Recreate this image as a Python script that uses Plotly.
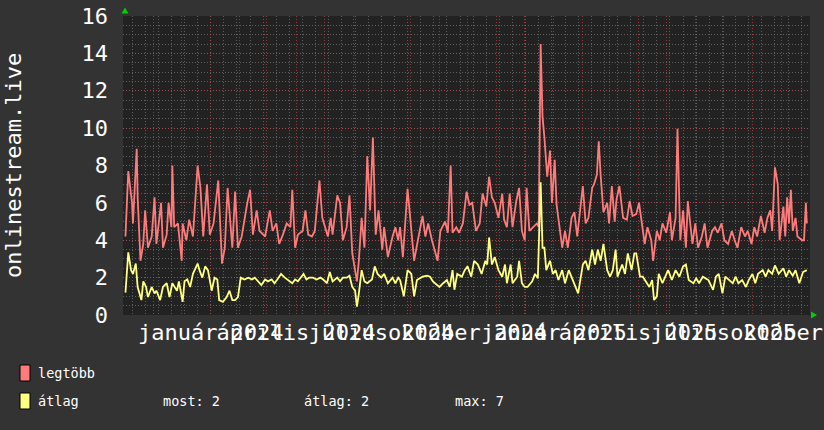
import pandas as pd
import plotly.graph_objects as go

# ---------------- data (days counted from 2024-01-01) ----------------
days_max_a = [-91, -88, -84, -83, -79, -78, -75, -72, -70, -67, -63, -60, -58, -53, -51, -47, -45, -42, -41, -39,
              -35, -31, -30, -26, -23, -19, -14, -11, -8, -4, -1, 3, 8, 12, 15, 18, 23, 26, 29, 33,
              39, 42, 45, 49, 52, 58, 63, 66, 70, 73, 77, 81, 85, 87, 90, 93, 98, 101, 104, 108,
              111, 116, 119, 122, 125, 128, 130, 135, 138, 141, 145, 148, 150, 151, 156, 158, 161, 164, 167, 170,
              173, 176, 179, 183, 185, 189, 194, 197, 200]
legtobb_a = [4.2, 7.7, 6.0, 4.9, 8.9, 6.3, 2.9, 3.8, 5.6, 3.6, 4.2, 6.3, 3.8, 6.0, 3.6, 4.3, 6.0, 4.7, 8.0, 4.7,
             4.9, 2.9, 4.9, 4.0, 5.1, 4.2, 8.0, 6.8, 4.2, 7.0, 4.3, 4.9, 7.2, 2.75, 3.6, 6.8, 3.6, 6.6, 3.6, 4.2,
             6.0, 6.7, 4.3, 5.6, 4.5, 4.2, 5.6, 4.5, 4.9, 3.8, 4.3, 4.9, 4.7, 6.7, 3.6, 4.3, 4.5, 5.6, 4.3, 4.2,
             4.5, 7.2, 5.2, 4.7, 4.2, 5.2, 4.3, 6.4, 6.0, 4.0, 4.7, 6.4, 3.8, 3.3, 1.8, 2.9, 5.2, 3.6, 8.5, 5.6,
             9.5, 4.3, 5.6, 3.5, 4.7, 3.1, 4.2, 4.7, 4.0]
days_max_b = [202, 205, 210, 213, 217, 221, 226, 229, 232, 236, 239, 242, 245, 250, 253, 256, 258, 262, 265, 269,
              273, 276, 279, 283, 287, 290, 294, 297, 300, 303, 307, 311, 313, 316, 319, 322, 326, 329, 332, 335,
              337, 340, 344, 348, 350, 352, 354, 356, 359, 362, 364, 367, 369, 372, 375, 378, 381, 385, 388, 391,
              397, 400, 403, 407, 409, 412, 414, 416, 419, 423, 425, 428, 431, 433, 436, 440, 444, 447, 450, 454,
              457, 460, 463, 466, 470, 472, 476, 479, 482, 486, 490, 492, 496, 498, 501, 504, 507, 509, 514, 517,
              520, 524, 527, 530, 535, 538, 541, 545, 548, 552, 556, 559, 562, 566, 570, 573, 577, 580, 583, 587,
              591, 594, 597, 599, 602, 605, 607, 611, 613, 615, 617, 619, 621, 624, 626, 631, 633, 635, 636]
legtobb_b = [4.7, 3.1, 6.75, 5.1, 2.9, 4.0, 5.3, 4.2, 4.9, 4.0, 3.5, 2.9, 4.5, 5.0, 4.4, 8.0, 4.4, 4.7, 4.4, 4.9,
             6.6, 5.9, 6.0, 4.5, 4.9, 6.5, 5.8, 7.4, 6.3, 6.0, 5.2, 6.5, 5.1, 4.7, 6.5, 4.7, 6.1, 6.8, 4.5, 4.0,
             6.8, 4.5, 4.7, 4.9, 4.7, 14.5, 10.6, 9.5, 7.4, 8.8, 6.0, 8.3, 5.9, 4.7, 3.6, 4.5, 3.6, 5.2, 5.5, 4.2,
             6.9, 4.9, 5.2, 6.8, 7.0, 7.5, 9.3, 7.5, 5.5, 6.0, 4.9, 6.9, 5.0, 6.2, 6.9, 5.2, 5.1, 6.1, 5.3, 5.4,
             6.0, 4.9, 3.8, 4.7, 4.0, 2.9, 4.5, 4.0, 4.9, 4.4, 5.5, 4.0, 5.2, 9.96, 4.0, 5.6, 3.6, 6.1, 3.8, 4.9,
             3.6, 4.2, 4.9, 3.6, 4.5, 4.7, 4.4, 4.9, 4.0, 3.8, 4.5, 4.0, 3.6, 4.7, 4.2, 4.5, 3.8, 4.7, 4.2, 5.3,
             4.4, 5.2, 5.6, 4.5, 7.9, 7.0, 4.0, 5.8, 4.2, 6.3, 4.9, 6.7, 4.5, 5.2, 4.2, 4.0, 4.0, 6.0, 4.9]

days_avg_a = [-91, -88, -85, -83, -80, -78, -74, -72, -69, -67, -63, -60, -58, -54, -51, -47, -44, -41, -36, -34,
              -30, -28, -25, -22, -19, -14, -12, -9, -6, -3, 1, 4, 7, 9, 13, 17, 20, 23, 26, 29,
              32, 36, 40, 44, 47, 50, 54, 58, 61, 65, 68, 71, 75, 79, 82, 87, 90, 93, 99, 102,
              105, 109, 113, 117, 120, 124, 127, 130, 135, 138, 141, 145, 148, 151, 154, 156, 158, 161, 164, 167,
              172, 175, 178, 182, 185, 189, 194, 197, 200]
atlag_a = [1.2, 3.35, 2.4, 2.2, 2.75, 1.5, 0.8, 1.8, 1.5, 0.96, 1.5, 1.15, 1.3, 0.8, 1.5, 1.7, 0.96, 1.7, 1.3, 1.8,
           0.7, 1.8, 1.9, 1.5, 2.2, 2.75, 2.4, 2.0, 2.6, 2.4, 1.3, 2.0, 1.9, 0.8, 0.7, 0.96, 1.3, 0.8, 0.8, 0.96,
           2.0, 1.9, 2.0, 1.9, 2.0, 1.8, 1.6, 1.9, 1.8, 1.9, 1.7, 1.9, 2.2, 2.0, 1.9, 1.7, 1.9, 1.8, 2.2, 1.9,
           2.0, 2.0, 1.9, 2.0, 1.9, 1.7, 2.3, 1.8, 2.0, 1.8, 2.0, 2.0, 2.1, 1.5, 1.3, 0.45, 1.15, 2.4, 1.8, 1.7,
           1.9, 2.6, 2.2, 2.0, 2.2, 1.7, 2.0, 1.7, 2.0]
days_avg_b = [202, 206, 210, 214, 217, 220, 223, 226, 231, 234, 237, 241, 244, 248, 252, 255, 258, 260, 263, 268,
              271, 274, 278, 281, 285, 289, 293, 295, 297, 300, 303, 307, 311, 314, 316, 320, 322, 327, 329, 332,
              335, 338, 343, 346, 349, 352, 354, 356, 358, 362, 365, 368, 371, 375, 378, 382, 386, 389, 392, 397,
              400, 403, 407, 410, 413, 416, 419, 423, 426, 429, 432, 434, 439, 442, 445, 449, 452, 454, 458, 461,
              465, 468, 471, 473, 476, 478, 482, 485, 488, 492, 496, 500, 504, 507, 510, 515, 518, 521, 525, 528,
              531, 536, 539, 542, 546, 549, 553, 557, 560, 563, 567, 571, 574, 578, 581, 584, 589, 592, 595, 599,
              602, 606, 611, 614, 617, 621, 624, 628, 632, 635, 636]
atlag_b = [1.87, 1.0, 2.4, 2.2, 1.0, 1.87, 1.96, 2.05, 2.1, 2.05, 1.8, 1.6, 1.5, 1.7, 1.87, 1.5, 2.4, 1.35, 2.2, 2.05,
           2.4, 2.6, 2.05, 2.9, 2.7, 2.2, 2.9, 2.7, 4.15, 2.7, 3.1, 2.4, 2.05, 2.7, 1.7, 2.7, 1.7, 2.05, 2.9, 1.7,
           1.5, 1.5, 1.8, 2.2, 1.96, 7.1, 3.6, 3.6, 2.4, 2.9, 2.2, 2.4, 1.87, 2.4, 1.7, 2.4, 1.87, 1.5, 1.16, 2.7,
           2.9, 2.4, 3.5, 2.7, 3.5, 2.9, 3.8, 2.4, 2.05, 2.4, 3.5, 2.05, 2.7, 2.2, 3.3, 2.4, 3.3, 3.3, 2.05, 2.05,
           1.7, 1.5, 1.87, 0.8, 1.0, 2.2, 1.7, 2.05, 2.4, 1.87, 2.4, 2.05, 2.6, 2.7, 1.87, 1.7, 1.96, 1.7, 2.05, 1.96,
           1.87, 1.35, 2.05, 2.2, 1.16, 2.05, 1.87, 1.7, 2.05, 1.7, 1.87, 1.5, 1.87, 2.2, 1.7, 2.2, 2.4, 2.05, 2.4, 2.2,
           2.65, 2.2, 2.5, 2.05, 2.4, 2.1, 2.4, 1.7, 2.3, 2.4, 2.4]

month_names = {1: "január", 4: "április", 7: "július", 10: "október"}
y_ticks = [0, 2, 4, 6, 8, 10, 12, 14, 16]
series_names = ["legtöbb", "átlag"]
stats = [("most:", 2), ("átlag:", 2), ("max:", 7)]
y_title = "onlinestream.live"

# ---------------- build ----------------
base = pd.Timestamp("2024-01-01")
x_max = base + pd.to_timedelta(days_max_a + days_max_b, unit="D")
y_max = legtobb_a + legtobb_b
x_avg = base + pd.to_timedelta(days_avg_a + days_avg_b, unit="D")
y_avg = atlag_a + atlag_b

RED = "#ff7b7b"
YEL = "#ffff80"
MONO = "DejaVu Sans Mono"
BG = "#333333"
AXFONT = 22

W_FIG, H_FIG = 824, 430
L, R, T, B = 123, 14, 16, 115
PW = W_FIG - L - R
PH = H_FIG - T - B


def px(xp):
    return (xp - L) / PW


def py(yp):
    return (T + PH - yp) / PH


fig = go.Figure()
fig.add_trace(go.Scatter(x=x_max, y=y_max, mode="lines", name=series_names[0],
                         line=dict(color=RED, width=1.8), hoverinfo="skip"))
fig.add_trace(go.Scatter(x=x_avg, y=y_avg, mode="lines", name=series_names[1],
                         line=dict(color=YEL, width=1.8), hoverinfo="skip"))

months = pd.date_range("2023-11-01", "2025-10-01", freq="MS")
tick_text = [f"{month_names[m.month]} {m.year}" if m.month in month_names else "" for m in months]

MAJ = "rgba(190,70,70,0.7)"
MIN = "rgba(120,120,120,0.7)"

fig.update_xaxes(
    type="date", automargin=False,
    range=[base + pd.Timedelta(days=-93.63), base + pd.Timedelta(days=639.4)],
    tickmode="array", tickvals=list(months), ticktext=tick_text,
    tickangle=0, ticklabeloverflow="allow",
    tickfont=dict(family=MONO, size=AXFONT, color="white"),
    showgrid=True, gridcolor=MAJ, griddash="1px,2px", gridwidth=1,
    ticks="", ticklabelstandoff=2,
    minor=dict(dtick=14 * 86400000, tick0="2023-10-09", showgrid=True,
               gridcolor=MIN, griddash="1px,2px", gridwidth=1, ticks=""),
    zeroline=False, showline=False,
)
fig.update_yaxes(
    automargin=False,
    range=[0, 16], tickmode="array", tickvals=y_ticks, ticktext=[str(v) for v in y_ticks],
    tickfont=dict(family=MONO, size=AXFONT, color="white"),
    showgrid=True, gridcolor=MAJ, griddash="1px,2px", gridwidth=1,
    ticks="", ticklabelstandoff=14,
    minor=dict(dtick=0.5, showgrid=True, gridcolor=MIN, griddash="1px,2px", gridwidth=1, ticks=""),
    zeroline=False, showline=False,
)

shapes = []
annotations = []

# green arrows
shapes.append(dict(type="path", xref="paper", yref="paper",
                   path=f"M {px(121.5)},{py(13.5)} L {px(128.5)},{py(13.5)} L {px(125)},{py(7.5)} Z",
                   fillcolor="#00d000", line=dict(width=0)))
shapes.append(dict(type="path", xref="paper", yref="paper",
                   path=f"M {px(811)},{py(311.5)} L {px(811)},{py(318.5)} L {px(817)},{py(315)} Z",
                   fillcolor="#00d000", line=dict(width=0)))

# legend boxes
for i, col in enumerate([RED, YEL]):
    y0 = 365 + i * 28
    shapes.append(dict(type="rect", xref="paper", yref="paper",
                       x0=px(20), x1=px(30), y0=py(y0), y1=py(y0 + 16),
                       fillcolor=col, line=dict(color="black", width=1)))
    annotations.append(dict(text=series_names[i], xref="paper", yref="paper",
                            x=px(36), y=py(y0 + 8), xanchor="left", yanchor="middle",
                            showarrow=False, font=dict(family=MONO, size=13.5, color="white")))

for (lab, val), xp in zip(stats, [161, 302, 453]):
    annotations.append(dict(text=f"{lab} {val}", xref="paper", yref="paper",
                            x=px(xp), y=py(401), xanchor="left", yanchor="middle",
                            showarrow=False, font=dict(family=MONO, size=13.5, color="white")))

annotations.append(dict(text=y_title, xref="paper", yref="paper", x=px(13), y=py(166),
                        xanchor="center", yanchor="middle", textangle=-90, showarrow=False,
                        font=dict(family=MONO, size=AXFONT, color="white")))

fig.update_layout(
    width=W_FIG, height=H_FIG, autosize=False,
    margin=dict(l=L, r=R, t=T, b=B, pad=0, autoexpand=False),
    paper_bgcolor=BG, plot_bgcolor="#222222",
    showlegend=False, shapes=shapes, annotations=annotations,
)

fig.write_html(
    "out.html",
    config={"displayModeBar": False},
    post_script="document.body.style.margin='0';document.body.style.padding='0';"
                "document.body.style.background='#333333';document.body.style.overflow='hidden';",
)
